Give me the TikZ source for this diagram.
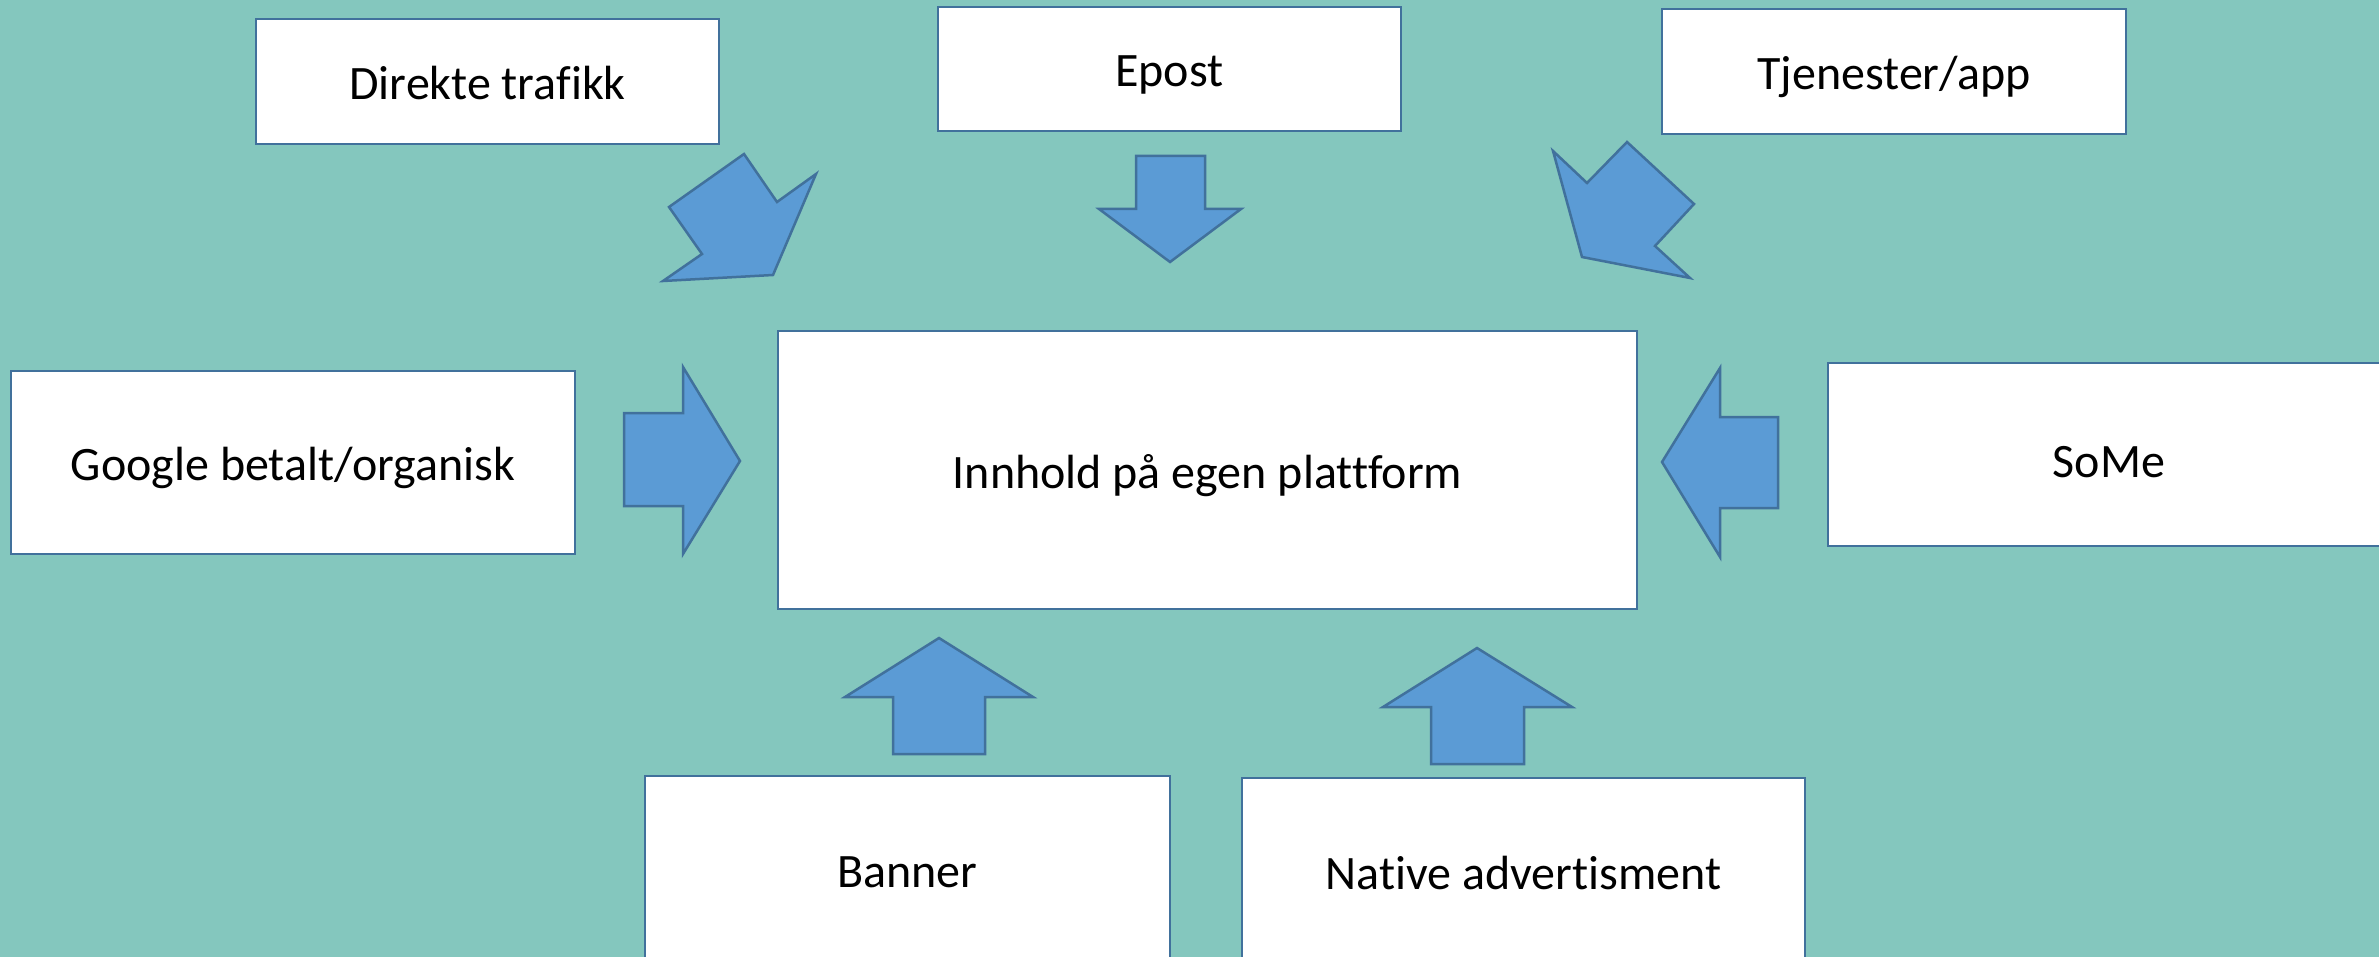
\documentclass[tikz,border=0pt]{standalone}
\usepackage{fontspec}
\setmainfont{Carlito}[Ligatures=CommonOff]
\definecolor{bgteal}{HTML}{84C7BE}
\definecolor{arrowfill}{HTML}{5B9BD5}
\definecolor{edgeblue}{HTML}{41719C}
\tikzset{
  box/.style={draw=edgeblue, fill=white, line width=2.5pt, rectangle, inner sep=0pt,
    text height=36pt, text depth=0pt, align=center,
    font=\fontsize{48}{58}\selectfont},
  blockarrow/.style={fill=arrowfill, draw=edgeblue, line width=2.5pt, line join=miter}
}
\begin{document}
\begin{tikzpicture}[x=1pt,y=-1pt]
\useasboundingbox (0,0) rectangle (2379,957);
\clip (0,0) rectangle (2379,957);
\fill[bgteal] (0,0) rectangle (2379,957);

% boxes
\node[box, minimum width=463pt, minimum height=125pt] (direkte) at (487.5,81.5) {Direkte trafikk};
\node[box, minimum width=463pt, minimum height=124pt] (epost) at (1169.5,69) {Epost};
\node[box, minimum width=464pt, minimum height=125pt] (tjenester) at (1894,71.5) {Tjenester/app};
\node[box, minimum width=564pt, minimum height=183pt] (google) at (293,462.5) {Google betalt/organisk};
\node[box, minimum width=859pt, minimum height=278pt] (innhold) at (1207.5,470) {Innhold på egen plattform};
\node[box, minimum width=562pt, minimum height=183pt] (some) at (2109,454.5) {\raisebox{-5pt}{SoMe}};
\node[box, minimum width=525pt, minimum height=186pt] (banner) at (907.5,869) {Banner};
\node[box, minimum width=563pt, minimum height=186pt] (native) at (1523.5,871) {Native advertisment};

% block arrows
\draw[blockarrow] (744,154) -- (777,202) -- (816,174) -- (773,275) -- (663,281) -- (702,254) -- (669,207) -- cycle;
\draw[blockarrow] (1136,156) -- (1205,156) -- (1205,209) -- (1241,209) -- (1170,262) -- (1099,209) -- (1136,209) -- cycle;
\draw[blockarrow] (1553,151) -- (1587,183) -- (1627,142) -- (1694,204) -- (1655,246) -- (1690,278) -- (1582,257) -- cycle;
\draw[blockarrow] (624,413) -- (683,413) -- (683,367) -- (740,461) -- (683,554) -- (683,506) -- (624,506) -- cycle;
\draw[blockarrow] (1778,417) -- (1720,417) -- (1720,368) -- (1662,462) -- (1720,557) -- (1720,508) -- (1778,508) -- cycle;
\draw[blockarrow] (893,754) -- (893,697) -- (845,697) -- (939,638) -- (1033,697) -- (985,697) -- (985,754) -- cycle;
\draw[blockarrow] (1431,764) -- (1431,707) -- (1383,707) -- (1477,648) -- (1572,707) -- (1524,707) -- (1524,764) -- cycle;
\end{tikzpicture}
\end{document}
